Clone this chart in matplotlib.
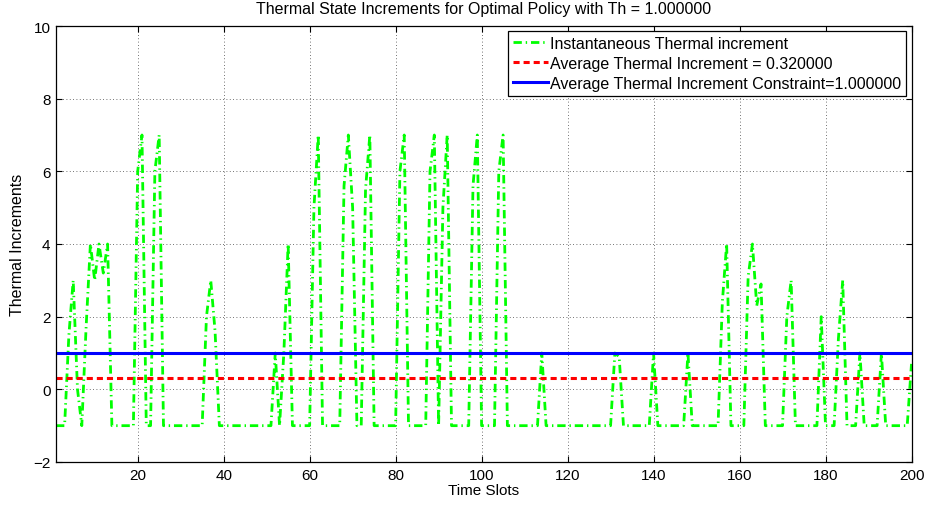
import numpy as np
import matplotlib
matplotlib.use("Agg")
import matplotlib.pyplot as plt

plt.rcParams['font.family'] = ['Liberation Sans', 'DejaVu Sans']

# ---- data ----
time_slots = np.arange(1, 201)
increments = [
    -1, -1, -1, 1.5, 3, 0, -1, 1.7, 4, 3,            # 1-10
    4, 3.2, 4, -1, -1, -1, -1, -1, -1, 6,             # 11-20
    7, -1, -1, 6, 7, -1, -1, -1, -1, -1,              # 21-30
    -1, -1, -1, -1, -1, 2, 3, 1.6, -1, -1,            # 31-40
    -1, -1, -1, -1, -1, -1, -1, -1, -1, -1,           # 41-50
    -1, 1, -1, 1, 4, -1, -1, -1, -1, -1,              # 51-60
    5, 7, -1, -1, -1, -1, -1, 5.6, 7, 5,              # 61-70
    -1, -1, 5.5, 7, -1, -1, -1, -1, -1, -1,           # 71-80
    6, 7, -1, -1, -1, -1, -1, 6, 7, -1,               # 81-90
    5, 7, -1, -1, -1, -1, -1, 5.6, 7, -1,             # 91-100
    -1, -1, -1, 6, 7, -1, -1, -1, -1, -1,             # 101-110
    -1, -1, -1, 1, -1, -1, -1, -1, -1, -1,            # 111-120
    -1, -1, -1, -1, -1, -1, -1, -1, -1, -1,           # 121-130
    1, 0.9, -1, -1, -1, -1, -1, -1, -1, 1,            # 131-140
    -1, -1, -1, -1, -1, -1, -1, 1, -1, -1,            # 141-150
    -1, -1, -1, -1, -1, 2.4, 4, -1, -1, -1,           # 151-160
    -1, 3.1, 4, 2.3, 2.9, -1, -1, -1, -1, -1,         # 161-170
    2, 3, -1, -1, -1, -1, -1, -1, 2, -1,              # 171-180
    -1, -1, 1.4, 3, -1, -1, -1, 1, -1, -1,            # 181-190
    -1, -1, 1, -1, -1, -1, -1, -1, -1, 0.7,           # 191-200
]
avg_increment = 0.32
constraint = 1.0
x_ticks = [20, 40, 60, 80, 100, 120, 140, 160, 180, 200]
y_ticks = [-2, 0, 2, 4, 6, 8, 10]

FS = 11.5
W, H = 927, 506
fig = plt.figure(figsize=(W / 100, H / 100), dpi=100)
L, R, T, B = 56, 911.5, 27, 463
ax = fig.add_axes([L / W, 1 - B / H, (R - L) / W, (B - T) / H])

ax.plot(time_slots, increments, color=(0, 1, 0), lw=2.0,
        linestyle=(0, (3.0, 1.4, 0.5, 1.4)),
        label='Instantaneous Thermal increment')
ax.plot(time_slots, np.full(len(time_slots), avg_increment), color='red', lw=2.2,
        linestyle=(0, (2.0, 1.3)),
        label='Average Thermal Increment = %f' % avg_increment)
ax.plot(time_slots, np.full(len(time_slots), constraint), color='blue', lw=2.2,
        linestyle='-',
        label='Average Thermal Increment Constraint=%f' % constraint)

ax.set_xlim(1, 200)
ax.set_ylim(-2, 10)
ax.set_xticks(x_ticks)
ax.set_yticks(y_ticks)
ax.tick_params(direction='in', top=True, right=True, length=4, width=0.8,
               labelsize=11, pad=4)
ax.grid(True, color='#444444', linestyle=(0, (1, 3)), lw=0.6)
for s in ax.spines.values():
    s.set_linewidth(0.9)

ax.set_title('Thermal State Increments for Optimal Policy with Th = 1.000000',
             fontsize=FS, pad=9)
ax.set_xlabel('Time Slots', fontsize=11, labelpad=1)
ax.set_ylabel('Thermal Increments', fontsize=FS, labelpad=6)

leg = ax.legend(loc='upper right', bbox_to_anchor=((906 - L) / (R - L), (B - 32) / (B - T)),
                borderaxespad=0, fontsize=FS, handlelength=2.2, handletextpad=0.15,
                labelspacing=0.32, borderpad=0.3, fancybox=False, framealpha=1,
                edgecolor='black')
leg.get_frame().set_linewidth(0.9)

fig.savefig('out.png', dpi=100)
